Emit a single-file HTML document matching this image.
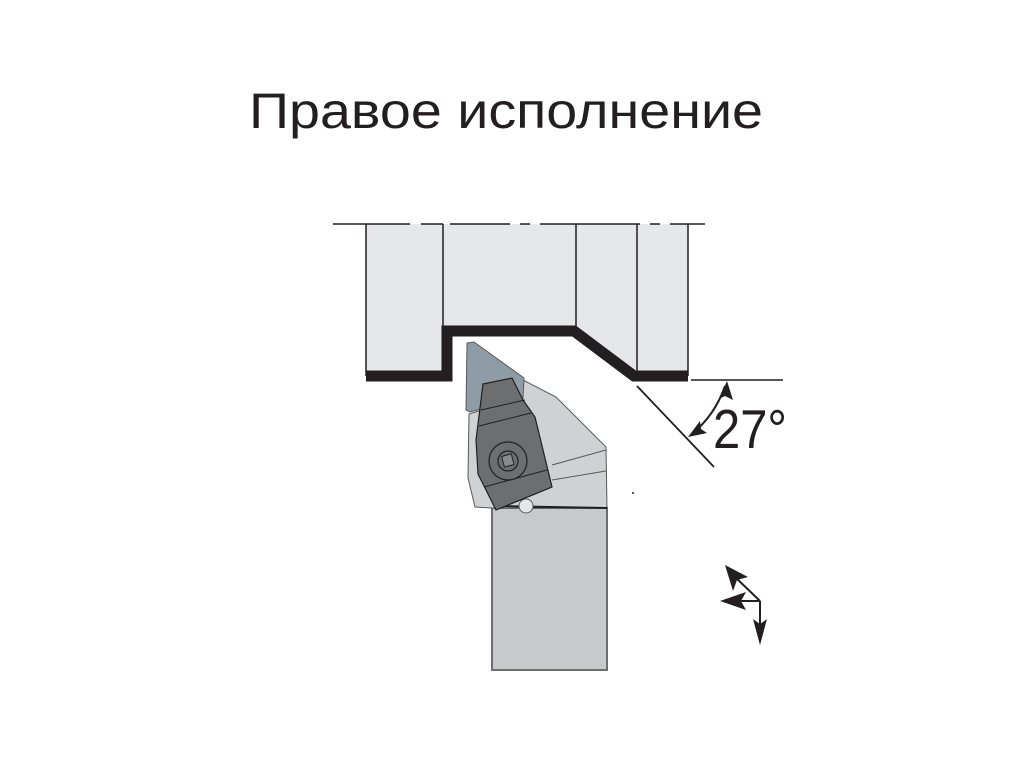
<!DOCTYPE html>
<html><head><meta charset="utf-8"><style>html,body{margin:0;padding:0;background:#fff}svg{display:block}</style></head>
<body>
<svg width="1024" height="768" viewBox="0 0 1024 768" xmlns="http://www.w3.org/2000/svg">
<text x="249" y="128" font-family="Liberation Sans, DejaVu Sans, sans-serif" font-size="50" fill="#231f20" textLength="514" lengthAdjust="spacingAndGlyphs">Правое исполнение</text>
<!-- workpiece -->
<path d="M366,224 H688 V376 H635 L575,331 H447 V376 H366 Z" fill="#e6e7e8" stroke="none"/>
<path d="M366,224 V376 M688,224 V376" stroke="#231f20" stroke-width="1.5"/>
<line x1="443" y1="224" x2="443" y2="331" stroke="#231f20" stroke-width="1.5"/>
<line x1="576" y1="224" x2="576" y2="331" stroke="#231f20" stroke-width="1.5"/>
<line x1="637" y1="224" x2="637" y2="376" stroke="#231f20" stroke-width="1.5"/>
<path d="M366,376 H447 V331 H574 L634,376 H688" fill="none" stroke="#231f20" stroke-width="11"/>
<path d="M333,224 H410 M421,224 H443 M450,224 H510 M520,224 H530 M540,224 H640 M650,224 H660 M670,224 H705" stroke="#231f20" stroke-width="1.5"/>
<!-- angle -->
<line x1="691" y1="380" x2="783" y2="380" stroke="#231f20" stroke-width="1.5"/>
<line x1="637" y1="386" x2="714" y2="467" stroke="#231f20" stroke-width="1.8"/>
<path d="M725,386 Q715,415 692,434" fill="none" stroke="#231f20" stroke-width="2"/>
<polygon points="727,381 733,400 725,396 719,399" fill="#231f20"/>
<polygon points="688,437 700,421 701,429 707,433" fill="#231f20"/>
<text x="713" y="448" font-family="Liberation Sans, sans-serif" font-size="55" fill="#231f20" textLength="74" lengthAdjust="spacingAndGlyphs">27°</text>
<!-- tool shank -->
<rect x="492" y="508" width="115" height="162" fill="#c8c9cb" stroke="#6d6e70" stroke-width="2"/>
<!-- head -->
<polygon points="523,380 556,397 606,447 607,508 492,508 475,507 468,478 469,414 523,398" fill="#d0d1d3" stroke="#58595b" stroke-width="1"/>
<line x1="552" y1="465" x2="606" y2="450" stroke="#58595b" stroke-width="1"/>
<line x1="552" y1="480" x2="606" y2="471" stroke="#58595b" stroke-width="1"/>
<line x1="495" y1="506" x2="607" y2="508" stroke="#231f20" stroke-width="2"/>
<circle cx="526" cy="506" r="7" fill="#e6e7e8" stroke="#58595b"/>
<polygon points="467,343 474,342 524,378 523,398 470,412 466,410" fill="#8e9ca5" stroke="#58595b" stroke-width="1"/>
<polygon points="483,384 512,378 523,400 535,417 552,487 496,510 478,474 476,440" fill="#6d6e70" stroke="#231f20" stroke-width="1.2"/>
<line x1="481" y1="410" x2="525" y2="400" stroke="#231f20"/>
<line x1="479" y1="426" x2="531" y2="413" stroke="#231f20"/>
<line x1="484" y1="487" x2="547" y2="470" stroke="#231f20"/>
<circle cx="508" cy="461" r="19" fill="#6d6e70" stroke="#231f20" stroke-width="1.2"/>
<circle cx="508" cy="461" r="10" fill="#6d6e70" stroke="#231f20" stroke-width="1.2"/>
<rect x="503" y="455" width="10" height="11" fill="#8a8b8d" stroke="#231f20" transform="rotate(-15 508 461)"/>
<circle cx="633" cy="493" r="1" fill="#231f20"/>
<!-- direction arrows -->
<g stroke="#231f20" stroke-width="2" fill="#231f20">
<line x1="760" y1="601" x2="733" y2="575"/>
<line x1="760" y1="601" x2="727" y2="601"/>
<line x1="760" y1="601" x2="760" y2="630"/>
<polygon points="725,565 748,577 737,580 733,591" stroke="none"/>
<polygon points="720,601 746,592 741,601 746,610" stroke="none"/>
<polygon points="760,645 753,619 760,624 767,619" stroke="none"/>
</g>
</svg>
</body></html>
